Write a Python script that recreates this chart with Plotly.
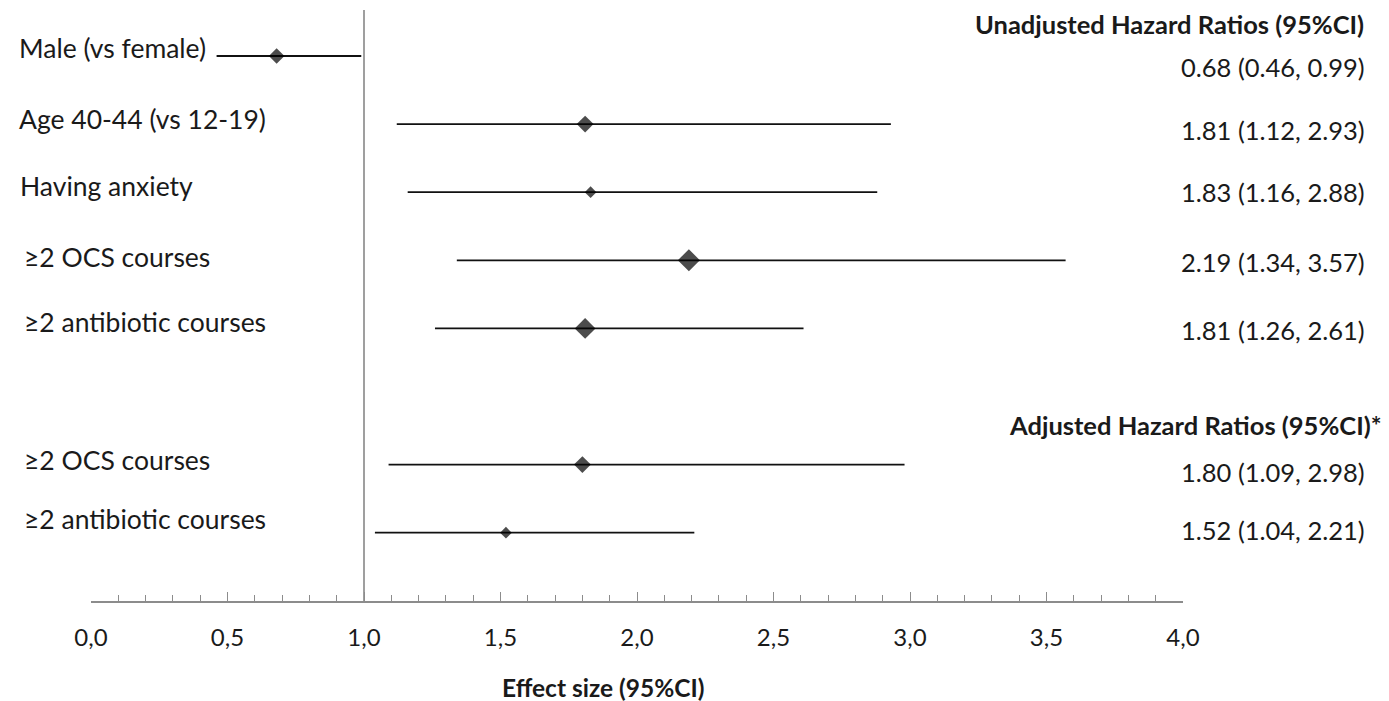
import plotly.graph_objects as go

labels = ["Male (vs female)", "Age 40-44 (vs 12-19)", "Having anxiety",
          "≥2 OCS courses", "≥2 antibiotic courses",
          "≥2 OCS courses", "≥2 antibiotic courses"]
hr = [0.68, 1.81, 1.83, 2.19, 1.81, 1.80, 1.52]
lo = [0.46, 1.12, 1.16, 1.34, 1.26, 1.09, 1.04]
hi = [0.99, 2.93, 2.88, 3.57, 2.61, 2.98, 2.21]
rows = [0, 1, 2, 3, 4, 6, 7]
marker_sizes = [12, 13, 9, 17, 16, 13, 9]
ci_text = ["0.68 (0.46, 0.99)", "1.81 (1.12, 2.93)", "1.83 (1.16, 2.88)",
           "2.19 (1.34, 3.57)", "1.81 (1.26, 2.61)",
           "1.80 (1.09, 2.98)", "1.52 (1.04, 2.21)"]
header_unadj = "Unadjusted Hazard Ratios (95%CI)"
header_adj = "Adjusted Hazard Ratios (95%CI)*"
x_title = "Effect size (95%CI)"

FONT = "Lato, Calibri, Carlito, sans-serif"
OFF = 8  # page body margin
FW, FH = 1389 - OFF, 701 - OFF
PX0, PX1 = 91, 1183
TOP, BOT = 10, 601
W = PX1 - PX0

def paper_x(px):
    return (px - PX0) / W

def paper_y(py):
    return (BOT - py) / (BOT - TOP)

fig = go.Figure()
fig.add_trace(go.Scatter(
    x=hr, y=rows, mode="markers",
    marker=dict(symbol="diamond", size=marker_sizes, color="black",
                line=dict(width=0)),
    error_x=dict(type="data", symmetric=False,
                 array=[h - m for h, m in zip(hi, hr)],
                 arrayminus=[m - l for m, l in zip(hr, lo)],
                 color="#111111", thickness=1.8, width=0),
    showlegend=False, hoverinfo="skip",
))

# left labels (slightly above the rows)
label_x = [17, 17, 18, 22, 22, 22, 22]
label_dy = [-8, -5, -6, -3, -6, -5, -14]
for lab, r, lx, dy in zip(labels, rows, label_x, label_dy):
    fig.add_annotation(x=paper_x(lx), xref="paper", y=r, yref="y",
                       yshift=-dy, text=lab, showarrow=False,
                       xanchor="left", yanchor="middle",
                       font=dict(family=FONT, size=26.5, color="#1a1a1a"))

# right CI texts
text_dy = [11, 6, 0, 2, 2, 7, -3]
for t, r, dy in zip(ci_text, rows, text_dy):
    fig.add_annotation(x=paper_x(1367), xref="paper", y=r, yref="y",
                       yshift=-dy, text=t, showarrow=False,
                       xanchor="right", yanchor="middle",
                       font=dict(family=FONT, size=25.5, color="#1a1a1a"))

fig.add_annotation(x=paper_x(1366), xref="paper", y=paper_y(24), yref="paper",
                   text="<b>" + header_unadj + "</b>", showarrow=False,
                   xanchor="right", yanchor="middle",
                   font=dict(family=FONT, size=25.5, color="#1a1a1a"))
fig.add_annotation(x=paper_x(1384), xref="paper", y=paper_y(425), yref="paper",
                   text="<b>" + header_adj + "</b>", showarrow=False,
                   xanchor="right", yanchor="middle",
                   font=dict(family=FONT, size=25.5, color="#1a1a1a"))
fig.add_annotation(x=paper_x(603), xref="paper", y=paper_y(687), yref="paper",
                   text="<b>" + x_title + "</b>", showarrow=False,
                   xanchor="center", yanchor="middle",
                   font=dict(family=FONT, size=24.5, color="#1a1a1a"))

# reference line at 1
fig.add_shape(type="line", x0=1, x1=1, xref="x", y0=0, y1=1, yref="paper",
              line=dict(color="#7f7f7f", width=1.5), layer="below")

# y mapping: row 0 at px 56, spacing ~68.1
r_top = (TOP - 56) / 68.1
r_bot = (BOT - 56) / 68.1

fig.update_layout(
    width=FW, height=FH,
    margin=dict(l=PX0 - OFF, r=1389 - PX1, t=TOP - OFF, b=701 - BOT),
    plot_bgcolor="white", paper_bgcolor="white",
    separators=",.",
    xaxis=dict(range=[0, 4], dtick=0.5, tick0=0, tickformat=".1f",
               showgrid=False, zeroline=False,
               showline=True, linecolor="#8c8c8c", linewidth=1.5,
               ticks="inside", ticklen=9, tickwidth=1.3, tickcolor="#8c8c8c",
               minor=dict(dtick=0.1, ticks="inside", ticklen=6,
                          tickwidth=1.3, tickcolor="#8c8c8c"),
               ticklabelstandoff=14,
               tickfont=dict(family=FONT, size=24, color="#1a1a1a")),
    yaxis=dict(range=[r_bot, r_top], visible=False, showgrid=False,
               zeroline=False),
)

fig.write_html("out.html")
